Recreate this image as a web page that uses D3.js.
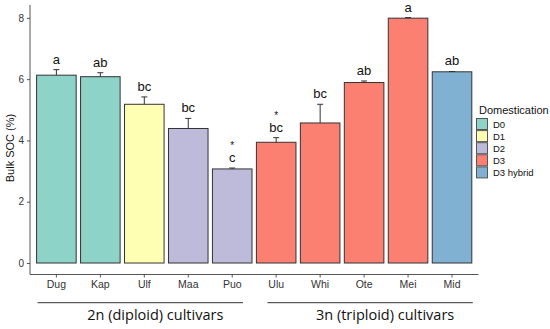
<!DOCTYPE html>
<html><head><meta charset="utf-8">
<script src="https://cdn.jsdelivr.net/npm/d3@7"></script>
<style>body{margin:0;background:#fff;}svg{display:block;}</style>
</head><body>
<svg id="c" width="550" height="329"></svg>
<script>
const cultivars = ["Dug","Kap","Ulf","Maa","Puo","Ulu","Whi","Ote","Mei","Mid"];
const socMean   = [6.13, 6.08, 5.18, 4.39, 3.07, 3.94, 4.57, 5.89, 7.99, 6.24];
const socErr    = [0.18, 0.13, 0.24, 0.33, 0.03, 0.15, 0.61, 0.05, 0.02, 0.01];
const letters   = ["a","ab","bc","bc","c","bc","bc","ab","a","ab"];
const stars     = ["","","","","*","*","","","",""];
const domestication = ["D0","D0","D1","D2","D2","D3","D3","D3","D3","D3 hybrid"];
const domLevels = ["D0","D1","D2","D3","D3 hybrid"];
const domColors = ["#8dd3c7","#ffffb3","#bebada","#fb8072","#80b1d3"];
const groupNames = ["2n (diploid) cultivars","3n (triploid) cultivars"];
const groupMembers = [["Dug","Puo"],["Ulu","Mid"]];
const yTicks = [0,2,4,6,8];

const svg = d3.select("#c");
const font = "'Liberation Sans', Arial, sans-serif";
const x = d3.scaleBand().domain(cultivars).range([30, 478.4]).paddingInner(0.1).paddingOuter(0.15);
const y = d3.scaleLinear().domain([-0.375, 8.42]).range([274.5, 5]);
const color = d3.scaleOrdinal().domain(domLevels).range(domColors);

// bars
svg.append("g").selectAll("rect").data(cultivars).join("rect")
  .attr("x", d => x(d)).attr("width", x.bandwidth())
  .attr("y", (d,i) => y(socMean[i])).attr("height", (d,i) => y(0) - y(socMean[i]))
  .attr("fill", (d,i) => color(domestication[i]))
  .attr("stroke", "#333").attr("stroke-width", 1);

// error bars
const eg = svg.append("g").attr("stroke", "#333").attr("stroke-width", 1);
cultivars.forEach((c,i) => {
  const cx = x(c) + x.bandwidth()/2;
  const top = y(socMean[i] + socErr[i]);
  eg.append("line").attr("x1", cx).attr("x2", cx).attr("y1", y(socMean[i])).attr("y2", top);
  eg.append("line").attr("x1", cx-3).attr("x2", cx+3).attr("y1", top).attr("y2", top);
});

// letters and stars
cultivars.forEach((c,i) => {
  const cx = x(c) + x.bandwidth()/2;
  const base = y(socMean[i] + socErr[i]) - 6;
  svg.append("text").attr("x", cx).attr("y", base).attr("text-anchor","middle")
    .attr("font-family", font).attr("font-size", 13).attr("fill","#111").text(letters[i]);
  if (stars[i]) {
    svg.append("text").attr("x", cx).attr("y", base - 13).attr("text-anchor","middle")
      .attr("font-family", font).attr("font-size", 10).attr("fill","#111").text(stars[i]);
  }
});

// y axis
const ya = svg.append("g").attr("transform","translate(30,0)")
  .call(d3.axisLeft(y).tickValues(yTicks).tickSize(3).tickPadding(3).tickFormat(d3.format("d")));
ya.select(".domain").attr("stroke","#555").attr("d", `M0,${y.range()[0]}V${y.range()[1]}`);
ya.selectAll(".tick line").attr("stroke","#555");
ya.selectAll("text").attr("font-family", font).attr("font-size", 10).attr("fill","#333");

// x axis
const xa = svg.append("g").attr("transform",`translate(0,${y.range()[0]})`)
  .call(d3.axisBottom(x).tickSize(3).tickPadding(3));
xa.select(".domain").attr("stroke","#555").attr("d", `M${x.range()[0]},0H${x.range()[1]}`);
xa.selectAll(".tick line").attr("stroke","#555");
xa.selectAll("text").attr("font-family", font).attr("font-size", 10.5).attr("fill","#333");

// y title
svg.append("text").attr("transform","translate(14,148) rotate(-90)").attr("text-anchor","middle")
  .attr("font-family", font).attr("font-size", 11).attr("fill","#111").text("Bulk SOC (%)");

// group brackets
const bw = x.bandwidth();
const brackets = [
  [x(groupMembers[0][0]) + 1, x(groupMembers[0][1]) + bw - 9],
  [x(groupMembers[1][0]) + 11, x(groupMembers[1][1]) + bw + 1]
];
groupNames.forEach((g,k) => {
  const [x1, x2] = brackets[k];
  svg.append("line").attr("x1", x1).attr("x2", x2).attr("y1", 302.7).attr("y2", 302.7)
    .attr("stroke","#333").attr("stroke-width", 1);
  svg.append("text").attr("x", (x1+x2)/2 + 15).attr("y", 320).attr("text-anchor","middle")
    .attr("font-family","'Open Sans', sans-serif").attr("font-size", 14.5).attr("fill","#111").text(g);
});

// legend
const lg = svg.append("g").attr("transform","translate(476,0)");
lg.append("text").attr("x", 3).attr("y", 114).attr("font-family", font).attr("font-size", 11)
  .attr("fill","#111").text("Domestication");
domLevels.forEach((d,i) => {
  const cy = 124 + i*12.1;
  lg.append("rect").attr("x", 0.5).attr("y", cy-5.5).attr("width", 11).attr("height", 11)
    .attr("fill", color(d)).attr("stroke","#555").attr("stroke-width", 1);
  lg.append("text").attr("x", 17).attr("y", cy + 3.5).attr("font-family", font).attr("font-size", 9.5)
    .attr("fill","#111").text(d);
});
</script>
</body></html>
